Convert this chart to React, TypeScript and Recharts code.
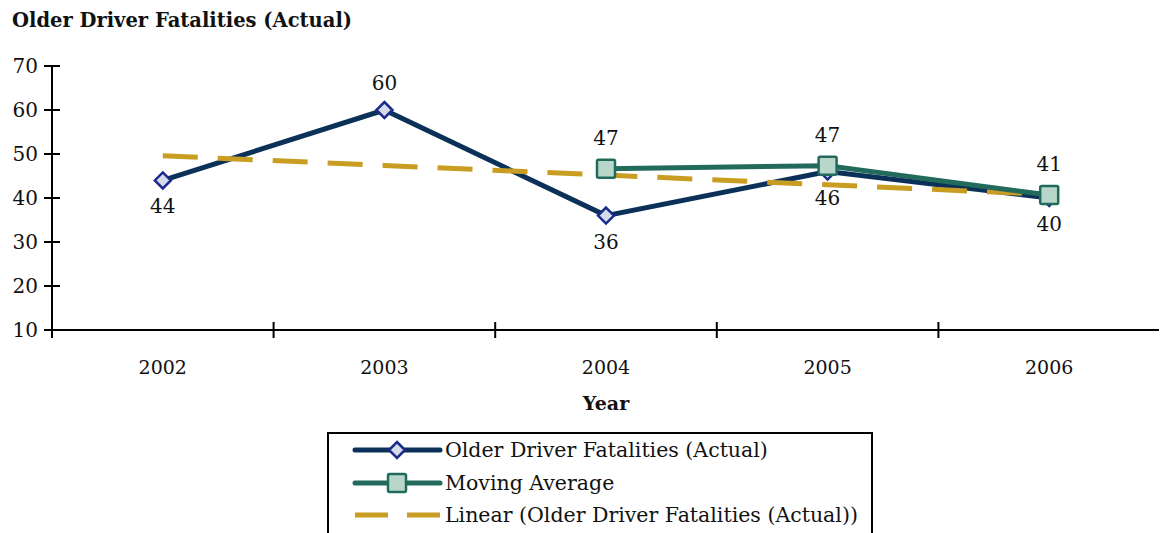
import { ComposedChart, Line, XAxis, YAxis, LabelList, Label } from "recharts";

const YEARS = ["2002", "2003", "2004", "2005", "2006"];
const ACTUAL = [44, 60, 36, 46, 40];
const MOVING_AVG = [null, null, 46.67, 47.33, 40.67];
const TREND = [49.6, 47.4, 45.2, 43.0, 40.8];
const ACTUAL_LABEL_SIDE = ["below", "above", "below", "below", "below"];
const Y_TICKS = [10, 20, 30, 40, 50, 60, 70];

const SERIES_NAMES = [
  "Older Driver Fatalities (Actual)",
  "Moving Average",
  "Linear (Older Driver Fatalities (Actual))",
];

const FONT = "'DejaVu Serif', serif";
const NAVY = "#0b3158";
const DIAMOND_STROKE = "#1b2b8c";
const DIAMOND_FILL = "#d6dbea";
const TEAL = "#226b5c";
const SQUARE_FILL = "#b8d7ca";
const GOLD = "#c89d22";

const PLOT_W = 1108;
const HALF_BAND = PLOT_W / YEARS.length / 2;

const data = YEARS.map((year, i) => ({
  year,
  actual: ACTUAL[i],
  avg: MOVING_AVG[i],
  trend: TREND[i],
}));

function diamondPath(cx: number, cy: number, r: number) {
  return `M${cx},${cy - r} L${cx + r},${cy} L${cx},${cy + r} L${cx - r},${cy} Z`;
}

function DiamondDot(props: any) {
  const { cx, cy, index } = props;
  if (cx == null || cy == null) return <g key={`d${index}`} />;
  return (
    <path key={`d${index}`} d={diamondPath(cx, cy, 8)} fill={DIAMOND_FILL} stroke={DIAMOND_STROKE} strokeWidth={2.5} />
  );
}

function SquareDot(props: any) {
  const { cx, cy, index, value } = props;
  if (cx == null || cy == null || value == null) return <g key={`s${index}`} />;
  return (
    <rect key={`s${index}`} x={cx - 9} y={cy - 9} width={18} height={18} rx={1.5}
      fill={SQUARE_FILL} stroke={TEAL} strokeWidth={2.5} />
  );
}

function ActualLabel(props: any) {
  const { x, y, value, index } = props;
  const below = ACTUAL_LABEL_SIDE[index] === "below";
  return (
    <text x={x} y={below ? y + 26 : y - 27} textAnchor="middle" dominantBaseline="central"
      fontSize={20} fontFamily={FONT} fill="#111">
      {value}
    </text>
  );
}

function AvgLabel(props: any) {
  const { x, y, value } = props;
  if (value == null || y == null) return null;
  return (
    <text x={x} y={y - 31} textAnchor="middle" dominantBaseline="central"
      fontSize={20} fontFamily={FONT} fill="#111">
      {Math.round(Number(value))}
    </text>
  );
}

function YTick(props: any) {
  const { x, y, payload } = props;
  return (
    <g>
      <line x1={x - 8} x2={x + 8} y1={y} y2={y} stroke="#000" strokeWidth={2} />
      <text x={x - 14} y={y} textAnchor="end" dominantBaseline="central" fontSize={20} fontFamily={FONT} fill="#111">
        {payload.value}
      </text>
    </g>
  );
}

function XTick(props: any) {
  const { x, y, payload, index, visibleTicksCount } = props;
  const last = index === visibleTicksCount - 1;
  return (
    <g>
      <line x1={x - HALF_BAND} x2={x - HALF_BAND} y1={y - 8} y2={y + 8} stroke="#000" strokeWidth={2} />
      {last && <line x1={x + HALF_BAND} x2={x + HALF_BAND} y1={y - 8} y2={y + 8} stroke="#000" strokeWidth={2} />}
      <text x={x} y={y + 37} textAnchor="middle" dominantBaseline="central" fontSize={19} fontFamily={FONT} fill="#111">
        {payload.value}
      </text>
    </g>
  );
}

function LegendBox() {
  const rows = [18, 51, 83];
  return (
    <div style={{ position: "absolute", left: 319, top: 424, width: 546, height: 120, border: "2px solid #000", boxSizing: "border-box", background: "#fff" }}>
      <svg width={542} height={116} style={{ position: "absolute", left: 0, top: 0 }}>
        <line x1={26} x2={111} y1={rows[0] - 2} y2={rows[0] - 2} stroke={NAVY} strokeWidth={5} strokeLinecap="round" />
        <path d={diamondPath(68, rows[0] - 2, 8)} fill={DIAMOND_FILL} stroke={DIAMOND_STROKE} strokeWidth={2.5} />
        <line x1={26} x2={111} y1={rows[1] - 2} y2={rows[1] - 2} stroke={TEAL} strokeWidth={5} strokeLinecap="round" />
        <rect x={59} y={rows[1] - 11} width={18} height={18} rx={1.5} fill={SQUARE_FILL} stroke={TEAL} strokeWidth={2.5} />
        <line x1={26} x2={111} y1={rows[2] - 2} y2={rows[2] - 2} stroke={GOLD} strokeWidth={5} strokeDasharray="33 19" />
        {SERIES_NAMES.map((name, i) => (
          <text key={name} x={116} y={rows[i] - 2} dominantBaseline="central" fontSize={20.5} fontFamily={FONT} fill="#111">
            {name}
          </text>
        ))}
      </svg>
    </div>
  );
}

export default function App() {
  return (
    <div style={{ position: "relative", width: 1159, height: 525, background: "#fff", overflow: "hidden" }}>
      <div style={{ position: "absolute", left: 4, top: 1, fontFamily: FONT, fontWeight: 700, fontSize: 19.5, lineHeight: "24px", color: "#111" }}>
        Older Driver Fatalities (Actual)
      </div>
      <ComposedChart width={1159} height={525} data={data}
        margin={{ top: 58, right: 7, left: 0, bottom: 123 }} style={{ fontFamily: FONT }}>
        <XAxis dataKey="year" type="category" height={80} tickSize={0} tickMargin={0}
          padding={{ left: HALF_BAND, right: HALF_BAND }}
          tick={<XTick />} tickLine={false} axisLine={{ stroke: "#000", strokeWidth: 2 }} interval={0}>
          <Label value="Year" position="insideBottom" offset={0}
            style={{ fontFamily: FONT, fontWeight: 700, fontSize: 19, fill: "#111" }} />
        </XAxis>
        <YAxis type="number" domain={[10, 70]} ticks={Y_TICKS} width={44} tickSize={0} tickMargin={0}
          tick={<YTick />} tickLine={false} axisLine={{ stroke: "#000", strokeWidth: 2 }} interval={0} />
        <Line dataKey="actual" stroke={NAVY} strokeWidth={5} isAnimationActive={false}
          dot={DiamondDot} activeDot={false}>
          <LabelList dataKey="actual" content={ActualLabel} />
        </Line>
        <Line dataKey="trend" stroke={GOLD} strokeWidth={5} strokeDasharray="35 20" dot={false}
          activeDot={false} isAnimationActive={false} />
        <Line dataKey="avg" stroke={TEAL} strokeWidth={5} isAnimationActive={false}
          dot={SquareDot} activeDot={false}>
          <LabelList dataKey="avg" content={AvgLabel} />
        </Line>
      </ComposedChart>
      <LegendBox />
    </div>
  );
}
